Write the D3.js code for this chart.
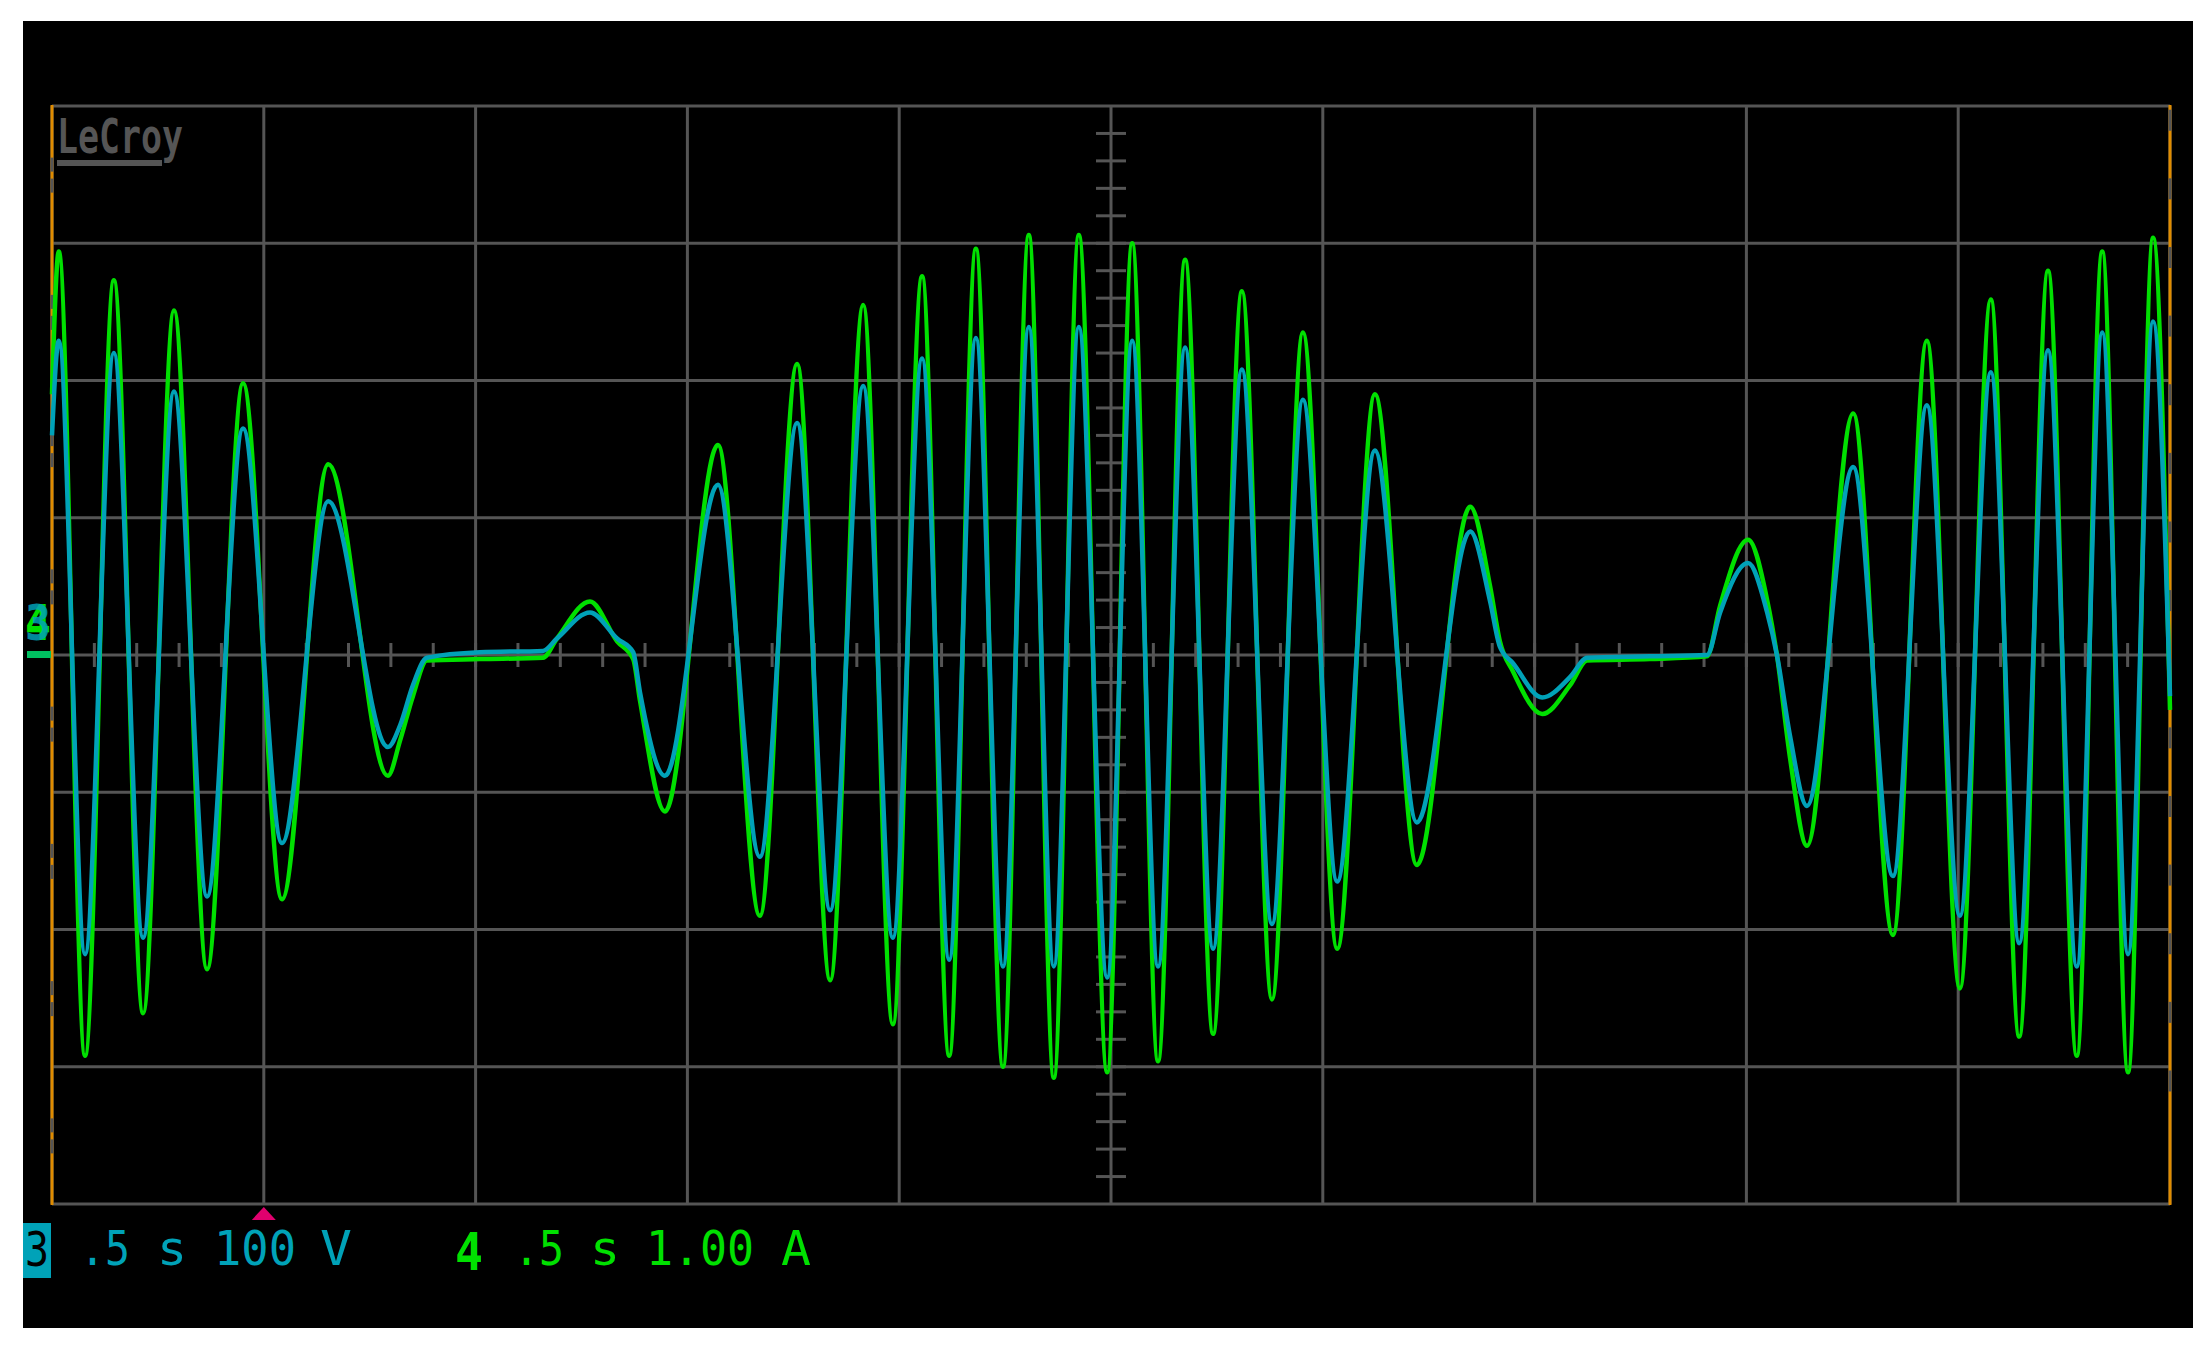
<!DOCTYPE html>
<html>
<head>
<meta charset="utf-8">
<script src="https://cdn.jsdelivr.net/npm/d3@7"></script>
<style>
body{margin:0;background:#fff;}
svg{display:block;}
text{font-family:"DejaVu Sans Mono",monospace;}
</style>
</head>
<body>
<script>
'use strict';

// time in seconds (0.5 s/div), ch3 in volts, ch4 in amps
var times=[0.000,0.016,0.078,0.146,0.215,0.288,0.366,0.451,0.543,0.652,0.793,0.822,0.852,0.885,1.010,1.159,1.192,1.270,1.334,1.372,1.388,1.447,
    1.572,1.671,1.759,1.837,1.915,1.985,2.054,2.118,2.181,2.245,2.306,2.365,2.424,2.491,2.550,2.611,2.675,2.741,2.809,2.880,2.953,3.034,3.123,3.222,
    3.348,3.395,3.418,3.449,3.518,3.584,3.624,3.772,3.907,3.938,4.004,4.049,4.072,4.103,4.143,4.252,4.346,4.426,4.504,4.577,4.644,4.712,4.780,4.840,4.901,4.960,5.000];
var volts=[160,229,-218,220,-206,192,-176,165,-137,112,-67,-51,-22,-2,2,3,12,31,12,2,-27,-88,
    124,-147,169,-186,196,-206,216,-222,231,-227,239,-227,239,-235,229,-227,224,-214,208,-196,186,-165,149,-122,
    90,39,6,-6,-31,-16,-2,-1,0,31,67,31,0,-59,-110,137,-161,182,-190,206,-210,222,-227,235,-218,243,-30];
var amps=[1.90,2.94,-2.92,2.73,-2.61,2.51,-2.29,1.98,-1.78,1.39,-0.88,-0.62,-0.30,-0.04,-0.03,-0.02,0.12,0.39,0.10,-0.03,-0.33,-1.14,
    1.53,-1.90,2.12,-2.37,2.55,-2.69,2.76,-2.92,2.96,-3.00,3.06,-3.08,3.06,-3.04,3.00,-2.96,2.88,-2.76,2.65,-2.51,2.35,-2.14,1.90,-1.53,
    1.08,0.50,0.10,-0.12,-0.43,-0.22,-0.04,-0.03,-0.01,0.36,0.84,0.40,0.00,-0.75,-1.39,1.76,-2.04,2.29,-2.43,2.59,-2.78,2.80,-2.92,2.94,-3.04,3.04,-0.40];

var ch3Label=['.5','s','100','V']
  , ch4Label=['.5','s','1.00','A'];

var W=2206,H=1345
  , grey='#555555', teal='#00a2b8', green='#00e000', orange='#e08c00';

var svg=d3.select('body').append('svg')
    .attr('width',W)
    .attr('height',H);

svg.append('rect')
    .attr('x',23).attr('y',21)
    .attr('width',2170).attr('height',1307)
    .attr('fill','#000');

var x=d3.scaleLinear().domain([0,5]).range([52,2170])
  , yV=d3.scaleLinear().domain([-400,400]).range([1204,106])
  , yA=d3.scaleLinear().domain([-4,4]).range([1204,106]);

var grid=svg.append('g').attr('stroke',grey).attr('stroke-width',3);

grid.selectAll('.vx').data(d3.range(0,5.001,0.5)).enter().append('line')
    .attr('x1',function(d){return x(d);})
    .attr('x2',function(d){return x(d);})
    .attr('y1',yV(400)).attr('y2',yV(-400));
grid.selectAll('.hy').data(d3.range(-400,401,100)).enter().append('line')
    .attr('y1',function(d){return yV(d);})
    .attr('y2',function(d){return yV(d);})
    .attr('x1',x(0)).attr('x2',x(5));

// minor ticks on the centre cross
grid.selectAll('.tx').data(d3.range(0.1,5,0.1)).enter().append('line')
    .attr('x1',function(d){return x(d);})
    .attr('x2',function(d){return x(d);})
    .attr('y1',yV(0)-12).attr('y2',yV(0)+12);
grid.selectAll('.ty').data(d3.range(-380,400,20)).enter().append('line')
    .attr('y1',function(d){return yV(d);})
    .attr('y2',function(d){return yV(d);})
    .attr('x1',x(2.5)-15).attr('x2',x(2.5)+15);

// orange side edges with grey gaps
var edges=svg.append('g');
edges.append('line').attr('x1',x(0)).attr('x2',x(0)).attr('y1',yV(400)-1).attr('y2',yV(-400)+1)
    .attr('stroke',orange).attr('stroke-width',3);
edges.append('line').attr('x1',x(5)).attr('x2',x(5)).attr('y1',yV(400)-1).attr('y2',yV(-400)+1)
    .attr('stroke',orange).attr('stroke-width',3);
d3.range(-350,400,100).forEach(function(v){
    [[-17,-3],[4,18]].forEach(function(g){
        edges.append('line').attr('x1',x(0)).attr('x2',x(0))
            .attr('y1',yV(v)+g[0]).attr('y2',yV(v)+g[1])
            .attr('stroke',grey).attr('stroke-width',3);
    });
});
d3.range(-310,400,50).forEach(function(v){
    edges.append('line').attr('x1',x(5)).attr('x2',x(5))
        .attr('y1',yV(v)-10).attr('y2',yV(v)+11)
        .attr('stroke',grey).attr('stroke-width',3);
});

// LeCroy logo
svg.append('text')
    .attr('x',57).attr('y',153)
    .attr('font-size',48).attr('font-weight','bold')
    .attr('textLength',126).attr('lengthAdjust','spacingAndGlyphs')
    .attr('fill',grey)
    .text('LeCroy');
svg.append('rect').attr('x',57).attr('y',160).attr('width',105).attr('height',6).attr('fill',grey);

// traces
var pts=times.map(function(t,i){return {t:t,v:volts[i],a:amps[i]};});

var lineA=d3.line()
    .x(function(d){return x(d.t);})
    .y(function(d){return yA(d.a);})
    .curve(d3.curveMonotoneX);
var lineV=d3.line()
    .x(function(d){return x(d.t);})
    .y(function(d){return yV(d.v);})
    .curve(d3.curveMonotoneX);

svg.append('path').datum(pts)
    .attr('d',lineA)
    .attr('fill','none').attr('stroke',green).attr('stroke-width',4.5);
svg.append('path').datum(pts)
    .attr('d',lineV)
    .attr('fill','none').attr('stroke',teal).attr('stroke-width',4.5);

// ground marker on the left
svg.append('rect').attr('x',27).attr('y',yV(0)-4).attr('width',24).attr('height',7).attr('fill','#00c060');
svg.append('text').attr('x',25).attr('y',640).attr('font-size',50).attr('font-weight','bold')
    .attr('fill',green).attr('textLength',26).attr('lengthAdjust','spacingAndGlyphs').text('4');
svg.append('text').attr('x',25).attr('y',640).attr('font-size',50).attr('font-weight','bold')
    .attr('fill',teal).attr('fill-opacity',0.85).attr('textLength',26).attr('lengthAdjust','spacingAndGlyphs').text('3');

// trigger marker
svg.append('path')
    .attr('d','M'+x(0.5)+',1207L'+(x(0.5)+12)+',1220L'+(x(0.5)-12)+',1220Z')
    .attr('fill','#e0006e');

// channel labels, each squeezed to the width it has on the screen
svg.append('rect').attr('x',23).attr('y',1223).attr('width',28).attr('height',55).attr('fill',teal);
svg.append('text').attr('x',25).attr('y',1266).attr('font-size',48)
    .attr('textLength',24).attr('lengthAdjust','spacingAndGlyphs').attr('fill','#000').text('3');

var xs3=[[80,50],[157,30],[214,82],[320,32]]
  , xs4=[[514,50],[590,30],[646,108],[781,30]];
svg.selectAll('.c3').data(ch3Label).enter().append('text')
    .attr('x',function(d,i){return xs3[i][0];})
    .attr('textLength',function(d,i){return xs3[i][1];})
    .attr('lengthAdjust','spacingAndGlyphs')
    .attr('y',1265)
    .attr('font-size',48)
    .attr('fill',teal)
    .text(function(d){return d;});
svg.append('text').attr('x',455).attr('y',1270).attr('font-size',52).attr('font-weight','bold')
    .attr('textLength',28).attr('lengthAdjust','spacingAndGlyphs')
    .attr('fill',green).text('4');
svg.selectAll('.c4').data(ch4Label).enter().append('text')
    .attr('x',function(d,i){return xs4[i][0];})
    .attr('textLength',function(d,i){return xs4[i][1];})
    .attr('lengthAdjust','spacingAndGlyphs')
    .attr('y',1265)
    .attr('font-size',48)
    .attr('fill',green)
    .text(function(d){return d;});
</script>
</body>
</html>
